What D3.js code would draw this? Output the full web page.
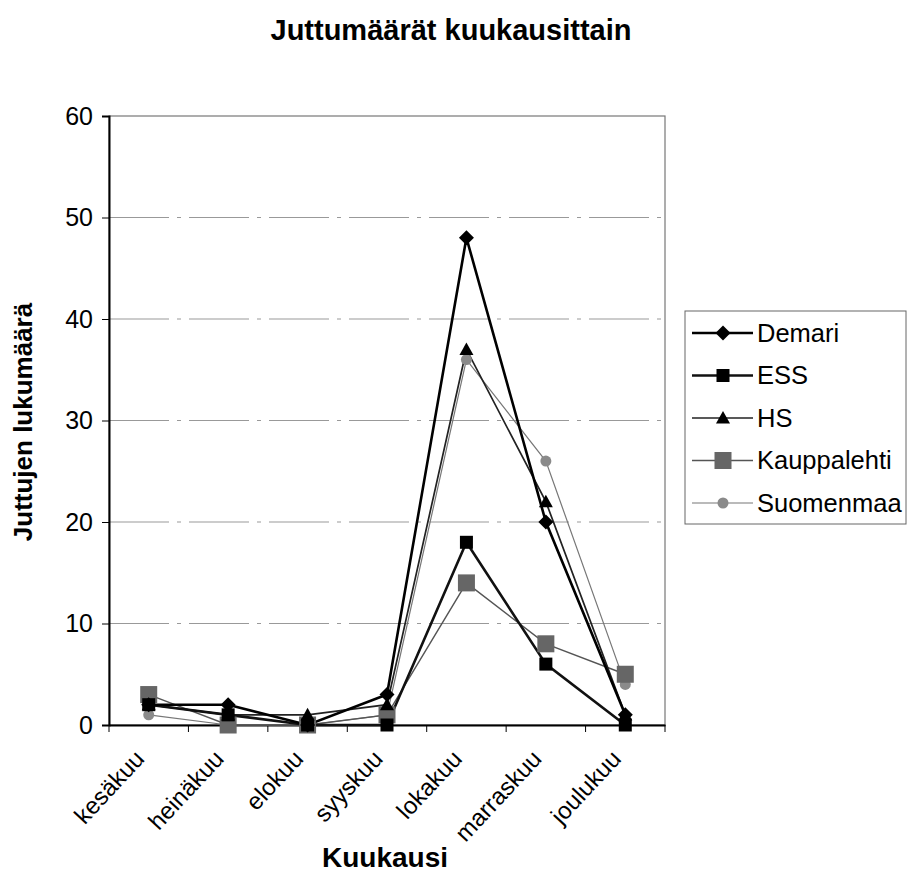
<!DOCTYPE html>
<html>
<head>
<meta charset="utf-8">
<script src="https://cdn.jsdelivr.net/npm/d3@7/dist/d3.min.js"></script>
<style>
  body { margin: 0; background: #fff; }
  svg text { font-family: "Liberation Sans", Arial, sans-serif; fill: #000; }
</style>
</head>
<body>
<svg id="chart" width="908" height="894"></svg>
<script>
const months = ["kesäkuu", "heinäkuu", "elokuu", "syyskuu", "lokakuu", "marraskuu", "joulukuu"];
const yTicks = [0, 10, 20, 30, 40, 50, 60];
const seriesNames = ["Demari", "ESS", "HS", "Kauppalehti", "Suomenmaa"];
const demari = [2, 2, 0, 3, 48, 20, 1];
const ess = [2, 1, 0, 0, 18, 6, 0];
const hs = [2, 1, 1, 2, 37, 22, 1];
const kauppalehti = [3, 0, 0, 1, 14, 8, 5];
const suomenmaa = [1, 0, 0, 1, 36, 26, 4];

const series = [
  { name: seriesNames[0], values: demari, color: "#000", width: 2.6, marker: "diamond", mcolor: "#000", msize: 15 },
  { name: seriesNames[1], values: ess, color: "#111", width: 2.6, marker: "square", mcolor: "#000", msize: 13 },
  { name: seriesNames[2], values: hs, color: "#222", width: 1.7, marker: "triangle", mcolor: "#000", msize: 14 },
  { name: seriesNames[3], values: kauppalehti, color: "#555", width: 1.4, marker: "square", mcolor: "#666", msize: 17 },
  { name: seriesNames[4], values: suomenmaa, color: "#777", width: 1.2, marker: "circle", mcolor: "#8a8a8a", msize: 11 }
];

const svg = d3.select("#chart");
const plot = { left: 109, right: 665, top: 116, bottom: 725 };

const x = d3.scaleBand().domain(months).range([plot.left, plot.right]);
const y = d3.scaleLinear().domain([0, 60]).range([plot.bottom, plot.top]);

// gridlines
svg.append("g").selectAll("line").data(yTicks.filter(d => d > 0 && d < 60)).join("line")
  .attr("x1", plot.left).attr("x2", plot.right)
  .attr("y1", d => y(d)).attr("y2", d => y(d))
  .attr("stroke", "#999").attr("stroke-width", 1)
  .attr("stroke-dasharray", "60,8,4,8");

// plot border
svg.append("rect")
  .attr("x", plot.left).attr("y", plot.top)
  .attr("width", plot.right - plot.left).attr("height", plot.bottom - plot.top)
  .attr("fill", "none").attr("stroke", "#777").attr("stroke-width", 1.2);

// y axis
const yAxis = d3.axisLeft(y).tickValues(yTicks).tickSize(7).tickPadding(9);
const gy = svg.append("g").attr("transform", `translate(${plot.left},0)`).call(yAxis);
gy.select(".domain").attr("stroke", "#000").attr("stroke-width", 2);
gy.selectAll(".tick line").attr("stroke", "#000");
gy.selectAll(".tick text").attr("font-size", 25).style("font-family", "Liberation Sans, Arial, sans-serif");

// x axis
const xAxis = d3.axisBottom(x).tickSize(0).tickPadding(0);
const gx = svg.append("g").attr("transform", `translate(0,${plot.bottom})`).call(xAxis);
gx.select(".domain").attr("stroke", "#000").attr("stroke-width", 2);
gx.selectAll(".tick text")
  .attr("font-size", 24)
  .style("font-family", "Liberation Sans, Arial, sans-serif")
  .attr("text-anchor", "end")
  .attr("y", 0).attr("dy", 0)
  .attr("transform", "translate(-3,35) rotate(-47)");
// tick marks at band boundaries
const bounds = months.map(m => x(m)).concat([plot.right]);
svg.append("g").selectAll("line").data(bounds).join("line")
  .attr("x1", d => d).attr("x2", d => d)
  .attr("y1", plot.bottom).attr("y2", plot.bottom + 7)
  .attr("stroke", "#000").attr("stroke-width", 1);

const cx = m => x(m) + x.bandwidth() / 2;

function drawMarker(g, type, size, color) {
  const s = size / 2;
  if (type === "diamond") {
    g.append("path").attr("d", `M0,${-s}L${s},0L0,${s}L${-s},0Z`).attr("fill", color);
  } else if (type === "square") {
    g.append("rect").attr("x", -s).attr("y", -s).attr("width", size).attr("height", size).attr("fill", color);
  } else if (type === "triangle") {
    g.append("path").attr("d", `M0,${-s}L${s},${s*0.8}L${-s},${s*0.8}Z`).attr("fill", color);
  } else {
    g.append("circle").attr("r", s).attr("fill", color);
  }
}

const line = d3.line().x((d, i) => cx(months[i])).y(d => y(d));

[...series].reverse().forEach(s => {
  svg.append("path").datum(s.values).attr("d", line)
    .attr("fill", "none").attr("stroke", s.color).attr("stroke-width", s.width);
});
[...series].reverse().forEach(s => {
  s.values.forEach((v, i) => {
    const g = svg.append("g").attr("transform", `translate(${cx(months[i])},${y(v)})`);
    drawMarker(g, s.marker, s.msize, s.mcolor);
  });
});

// title
svg.append("text").attr("x", 451).attr("y", 40).attr("text-anchor", "middle")
  .attr("font-size", 29).attr("font-weight", "bold").text("Juttumäärät kuukausittain");

// axis titles
svg.append("text").attr("x", 385).attr("y", 867).attr("text-anchor", "middle")
  .attr("font-size", 28).attr("font-weight", "bold").text("Kuukausi");
svg.append("text").attr("transform", "translate(32,422) rotate(-90)").attr("text-anchor", "middle")
  .attr("font-size", 26).attr("font-weight", "bold").text("Juttujen lukumäärä");

// legend
const lg = svg.append("g");
lg.append("rect").attr("x", 685).attr("y", 311).attr("width", 221).attr("height", 213)
  .attr("fill", "#fff").attr("stroke", "#666").attr("stroke-width", 1);
series.forEach((s, i) => {
  const yy = 333 + i * 42.5;
  lg.append("line").attr("x1", 692).attr("x2", 753).attr("y1", yy).attr("y2", yy)
    .attr("stroke", s.color).attr("stroke-width", s.width);
  const g = lg.append("g").attr("transform", `translate(723,${yy})`);
  drawMarker(g, s.marker, s.msize, s.mcolor);
  lg.append("text").attr("x", 757).attr("y", yy).attr("dy", "0.35em")
    .attr("font-size", 25.5).text(s.name);
});
</script>
</body>
</html>
